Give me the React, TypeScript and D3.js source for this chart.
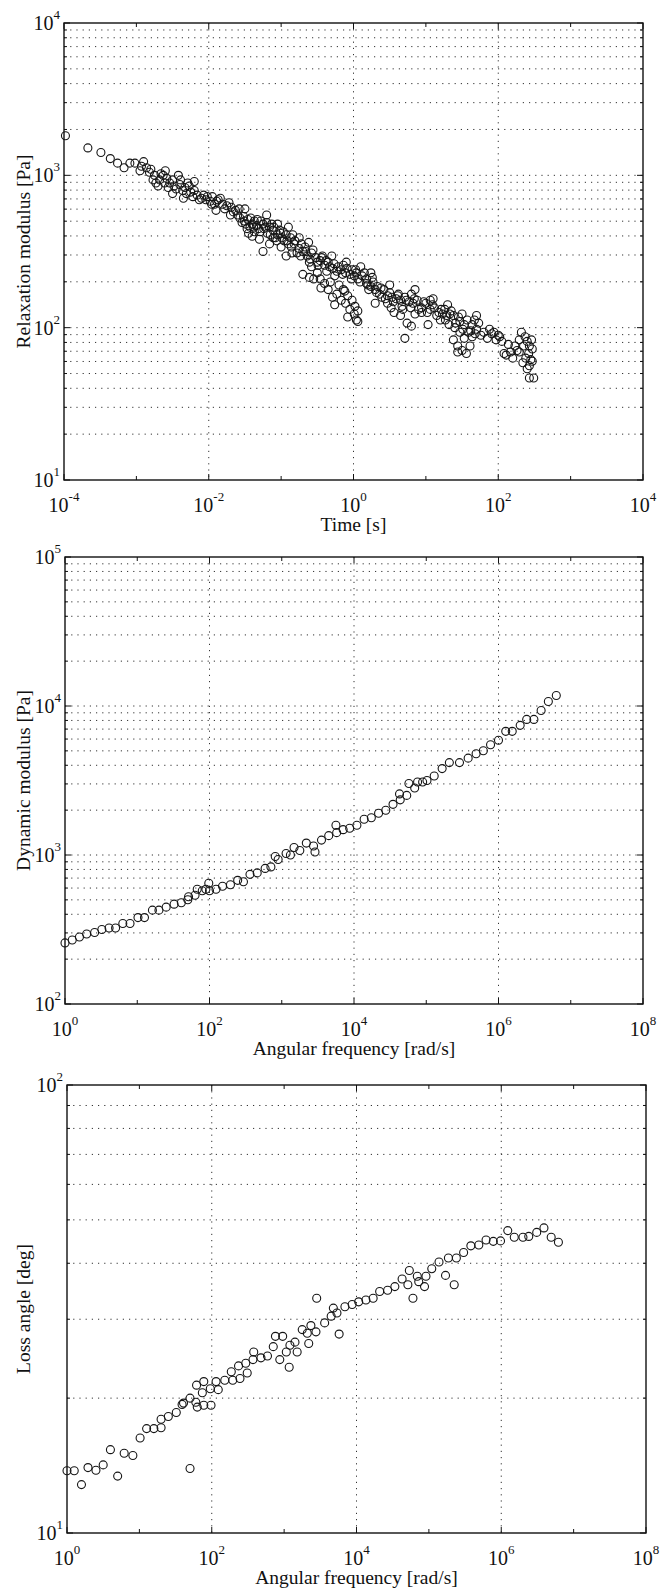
import React from 'react';
import * as d3 from 'd3';

// Values are given as decade exponents (log10): [log10 x, log10 y]
const relaxationPoints: [number, number][] = [
  [-3.98,3.26],[-3.67,3.18],[-3.49,3.15],[-3.36,3.11],[-3.26,3.08],[-3.17,3.05],[-3.09,3.08],[-3.02,3.08],
  [-2.93,3.06],[-2.86,3.05],[-2.82,3.02],[-2.77,2.97],[-2.73,2.95],[-2.68,2.97],[-2.63,3.00],[-2.58,2.98],
  [-2.54,2.95],[-2.48,2.93],[-2.42,3.00],[-2.39,2.97],[-2.33,2.92],[-2.27,2.93],[-2.25,2.89],[-2.31,2.88],
  [-2.22,2.86],[-2.16,2.87],[-2.10,2.85],[-2.04,2.84],[-1.98,2.83],[-1.92,2.81],[-1.87,2.84],[-1.81,2.81],
  [-1.75,2.80],[-1.69,2.79],[-2.07,2.87],[-1.95,2.86],[-1.84,2.85],[-1.63,2.77],[-1.60,2.74],[-1.57,2.72],
  [-1.51,2.70],[-1.46,2.71],[-1.40,2.68],[-1.34,2.67],[-1.28,2.70],[-1.22,2.66],[-1.16,2.66],[-1.11,2.64],
  [-1.05,2.61],[-0.99,2.59],[-0.93,2.61],[-0.87,2.59],[-0.81,2.57],[-1.16,2.55],[-1.25,2.50],[-0.93,2.47],
  [-1.54,2.69],[-1.49,2.68],[-1.43,2.66],[-1.37,2.70],[-1.31,2.65],[-1.25,2.68],[-1.19,2.62],[-1.13,2.68],
  [-1.08,2.59],[-1.02,2.64],[-0.96,2.57],[-0.90,2.55],[-0.84,2.61],[-1.37,2.63],[-1.11,2.59],[-0.75,2.52],
  [-0.70,2.50],[-0.64,2.47],[-0.58,2.49],[-0.52,2.46],[-0.46,2.44],[-0.40,2.41],[-0.35,2.43],[-0.29,2.39],
  [-0.23,2.37],[-0.17,2.38],[-0.11,2.36],[-0.05,2.35],[0.01,2.34],[0.06,2.32],[0.12,2.34],[0.18,2.32],
  [0.24,2.36],[-0.73,2.47],[-0.61,2.43],[-0.49,2.41],[-0.37,2.37],[-0.26,2.34],[-0.14,2.41],[-0.02,2.38],
  [0.04,2.36],[-0.43,2.47],[-0.67,2.53],[-0.70,2.35],[-0.61,2.33],[-0.55,2.32],[-0.46,2.32],[-0.40,2.29],
  [-0.35,2.25],[-0.29,2.20],[-0.26,2.15],[-0.23,2.22],[-0.17,2.18],[-0.11,2.16],[-0.05,2.12],[0.01,2.09],
  [0.04,2.05],[0.06,2.11],[-0.02,2.18],[-0.08,2.21],[-0.14,2.25],[-0.08,2.07],[0.06,2.04],[0.18,2.29],
  [0.24,2.27],[0.30,2.25],[0.36,2.22],[0.42,2.25],[0.47,2.21],[0.53,2.20],[0.59,2.19],[0.65,2.18],
  [0.71,2.20],[0.77,2.17],[0.82,2.16],[0.88,2.18],[0.94,2.13],[0.21,2.25],[0.27,2.30],[0.33,2.27],
  [0.39,2.20],[0.62,2.22],[0.85,2.25],[0.47,2.16],[0.56,2.10],[0.65,2.08],[0.74,2.03],[0.80,2.01],
  [0.71,1.93],[0.85,2.09],[0.94,2.10],[1.03,2.02],[1.06,2.18],[1.00,2.16],[1.06,2.12],[1.12,2.13],
  [1.18,2.10],[1.23,2.09],[1.29,2.08],[1.35,2.11],[1.41,2.03],[1.47,2.04],[1.53,2.02],[1.20,2.05],
  [1.32,2.02],[1.26,2.12],[1.38,2.08],[1.38,1.92],[1.44,1.88],[1.50,1.85],[1.56,1.83],[1.61,1.88],
  [1.44,1.84],[1.53,1.93],[1.59,1.97],[1.64,2.02],[1.70,1.99],[1.76,1.95],[1.73,2.03],[1.67,2.05],
  [1.47,1.97],[1.64,1.94],[1.88,1.99],[1.94,1.97],[2.00,1.95],[2.05,1.91],[2.08,1.83],[2.11,1.82],
  [2.17,1.84],[2.23,1.88],[2.29,1.92],[2.32,1.97],[2.37,1.94],[2.40,1.91],[2.43,1.88],[2.46,1.92],
  [2.47,1.86],[2.45,1.79],[2.43,1.75],[2.40,1.73],[2.43,1.67],[2.49,1.67],[2.34,1.77],[2.29,1.84],
  [2.20,1.80],
  [-2.95,3.03],[-2.90,3.09],[-2.80,3.04],[-2.75,3.00],[-2.70,2.93],[-2.66,3.01],[-2.61,2.95],[-2.56,2.92],
  [-2.50,2.97],[-2.45,2.91],[-2.40,2.94],[-2.36,2.90],[-2.29,2.95],[-2.20,2.90],[-2.13,2.84],[-2.02,2.86],
  [-1.96,2.81],[-1.89,2.83],[-1.78,2.78],[-1.72,2.82],[-1.66,2.76],[-1.58,2.78],[-1.52,2.73],[-1.47,2.65],
  [-1.42,2.72],[-1.38,2.66],[-1.33,2.71],[-1.29,2.63],[-1.24,2.65],[-1.20,2.69],[-1.15,2.61],[-1.10,2.66],
  [-1.06,2.57],[-1.01,2.62],[-0.97,2.63],[-0.92,2.57],[-0.86,2.53],[-0.82,2.55],[-0.78,2.49],[-0.72,2.55],
  [-0.66,2.50],[-0.60,2.45],[-0.56,2.51],[-0.50,2.43],[-0.44,2.46],[-0.38,2.44],[-0.33,2.40],[-0.27,2.42],
  [-0.21,2.40],[-0.15,2.35],[-0.09,2.39],[-0.03,2.32],[0.03,2.38],[0.09,2.30],[0.15,2.36],[0.20,2.28],
  [0.26,2.33],[0.32,2.23],[0.38,2.26],[0.44,2.19],[0.50,2.23],[0.55,2.17],[0.61,2.21],[0.67,2.14],
  [0.73,2.18],[0.79,2.13],[0.84,2.19],[0.90,2.12],[0.97,2.17],[1.02,2.10],[1.09,2.15],[1.15,2.08],
  [1.21,2.12],[1.27,2.05],[1.33,2.09],[1.40,2.00],[1.45,2.07],[1.51,1.99],[1.57,2.05],[1.62,1.98],
  [1.68,1.96],[1.80,1.97],[1.85,1.93],[1.91,1.96],[1.97,1.92],[2.02,1.94],[2.14,1.89],[2.26,1.85],
  [2.35,1.88],[2.42,1.83],[2.38,1.80],[2.47,1.78],[-0.45,2.26],[-0.32,2.30],[-0.20,2.28],[-0.12,2.24],
  [0.02,2.14],[-0.58,2.40],[0.52,2.13],[0.68,2.12],
  [-1.50,2.78],[-1.40,2.60],[-1.30,2.58],[-1.20,2.74],[-1.00,2.53],[-0.90,2.66],[-1.45,2.62],[-1.05,2.68],
  [-0.85,2.49],[-0.75,2.59],[-0.62,2.56],[-0.50,2.36],[-0.30,2.47],[-0.10,2.43],[0.10,2.40],[0.30,2.16],
  [0.50,2.28],[0.80,2.22],[1.10,2.19],[1.30,2.15],[1.50,2.09],[1.70,2.08],[-2.50,2.88],[-2.20,2.96],
  [-1.90,2.77],[-1.70,2.74],[-2.60,3.03],[-2.35,2.85],
];

const dynamicPoints: [number, number][] = [
  [0.00,2.41],[0.10,2.43],[0.20,2.45],[0.30,2.47],[0.41,2.48],[0.51,2.50],[0.61,2.51],[0.70,2.51],
  [0.80,2.54],[0.90,2.54],[1.01,2.58],[1.10,2.58],[1.21,2.63],[1.30,2.63],[1.40,2.65],[1.51,2.67],
  [1.61,2.68],[1.70,2.70],[1.71,2.72],[1.80,2.73],[1.83,2.77],[1.90,2.76],[1.95,2.77],[1.99,2.81],
  [2.00,2.76],[2.09,2.77],[2.18,2.79],[2.29,2.80],[2.39,2.83],[2.47,2.82],[2.56,2.87],[2.66,2.88],
  [2.77,2.91],[2.85,2.92],[2.91,2.99],[2.95,2.97],[3.06,3.01],[3.12,3.00],[3.17,3.05],[3.25,3.03],
  [3.34,3.08],[3.46,3.02],[3.44,3.06],[3.55,3.10],[3.65,3.13],[3.75,3.20],[3.76,3.15],[3.85,3.17],
  [3.94,3.18],[4.04,3.20],[4.14,3.24],[4.24,3.25],[4.34,3.28],[4.44,3.30],[4.54,3.34],[4.63,3.41],
  [4.64,3.37],[4.73,3.40],[4.76,3.48],[4.84,3.45],[4.88,3.49],[4.95,3.49],[5.01,3.50],[5.11,3.53],
  [5.22,3.58],[5.32,3.62],[5.46,3.62],[5.58,3.65],[5.69,3.68],[5.79,3.70],[5.89,3.74],[6.00,3.77],
  [6.10,3.83],[6.19,3.83],[6.30,3.87],[6.39,3.91],[6.49,3.91],[6.59,3.97],[6.69,4.03],[6.80,4.07],
];

const lossPoints: [number, number][] = [
  [0.00,1.139],[0.10,1.139],[0.20,1.108],[0.29,1.146],[0.40,1.140],[0.50,1.152],[0.60,1.186],[0.70,1.127],
  [0.79,1.178],[0.91,1.173],[1.01,1.212],[1.10,1.233],[1.20,1.233],[1.30,1.235],[1.30,1.254],[1.40,1.260],
  [1.51,1.269],[1.59,1.287],[1.61,1.290],[1.70,1.144],[1.70,1.301],[1.78,1.292],[1.80,1.281],[1.79,1.330],
  [1.87,1.313],[1.89,1.338],[1.89,1.285],[1.98,1.322],[1.99,1.285],[2.06,1.338],[2.09,1.320],[2.18,1.341],
  [2.27,1.360],[2.29,1.341],[2.37,1.373],[2.39,1.345],[2.47,1.379],[2.49,1.357],[2.57,1.387],[2.58,1.404],
  [2.68,1.391],[2.77,1.395],[2.85,1.416],[2.88,1.439],[2.94,1.387],[2.98,1.439],[3.03,1.404],[3.07,1.370],
  [3.08,1.419],[3.15,1.426],[3.18,1.404],[3.25,1.454],[3.32,1.446],[3.34,1.423],[3.37,1.463],[3.45,1.524],
  [3.44,1.449],[3.56,1.469],[3.65,1.484],[3.68,1.502],[3.73,1.491],[3.76,1.444],[3.84,1.505],[3.94,1.510],
  [4.03,1.516],[4.13,1.520],[4.23,1.524],[4.32,1.539],[4.43,1.542],[4.53,1.550],[4.63,1.567],[4.71,1.554],
  [4.73,1.586],[4.78,1.524],[4.84,1.573],[4.86,1.561],[4.94,1.550],[4.96,1.573],[5.04,1.590],[5.14,1.605],
  [5.23,1.575],[5.27,1.614],[5.35,1.554],[5.38,1.614],[5.48,1.626],[5.58,1.641],[5.69,1.643],[5.79,1.654],
  [5.89,1.651],[5.99,1.652],[6.09,1.675],[6.18,1.660],[6.30,1.660],[6.38,1.662],[6.49,1.671],[6.59,1.681],
  [6.69,1.660],[6.79,1.649],
];

// Axis ranges as decade exponents
const relaxXRange: [number, number] = [-4, 4];
const relaxYRange: [number, number] = [1, 4];
const dynXRange: [number, number] = [0, 8];
const dynYRange: [number, number] = [2, 5];
const lossXRange: [number, number] = [0, 8];
const lossYRange: [number, number] = [1, 2];

const FONT = "'Liberation Serif', 'Times New Roman', Times, serif";

type Box = { left: number; right: number; top: number; bottom: number };

function Panel({ box, xr, yr, xLabel, yLabel, points }: {
  box: Box; xr: [number, number]; yr: [number, number]; xLabel: string; yLabel: string; points: [number, number][];
}) {
  const x = d3.scaleLog().domain([10 ** xr[0], 10 ** xr[1]]).range([box.left, box.right]);
  const y = d3.scaleLog().domain([10 ** yr[0], 10 ** yr[1]]).range([box.bottom, box.top]);
  const xMajor = d3.range(xr[0], xr[1] + 1, 2);
  const xMinor = d3.range(xr[0] + 1, xr[1], 2);
  const yMajor = d3.range(yr[0], yr[1] + 1, 1);
  const yMinorVals: number[] = [];
  for (let e = yr[0]; e < yr[1]; e++) for (let k = 2; k <= 9; k++) yMinorVals.push(k * 10 ** e);
  const grid = { stroke: '#333', strokeWidth: 1, strokeDasharray: '1.2,5' };
  const tick = { stroke: '#111', strokeWidth: 1 };
  const midX = (box.left + box.right) / 2;
  const midY = (box.top + box.bottom) / 2;
  return (
    <g>
      {yMinorVals.concat(yMajor.slice(1, -1).map(e => 10 ** e)).map((v, i) => (
        <line key={'yg' + i} x1={box.left} x2={box.right} y1={y(v)} y2={y(v)} {...grid} />
      ))}
      {xMajor.slice(1, -1).map(e => (
        <line key={'xg' + e} x1={x(10 ** e)} x2={x(10 ** e)} y1={box.top} y2={box.bottom} {...grid} />
      ))}
      {xMajor.map(e => (
        <g key={'xt' + e}>
          <line x1={x(10 ** e)} x2={x(10 ** e)} y1={box.bottom} y2={box.bottom - 6} {...tick} />
          <line x1={x(10 ** e)} x2={x(10 ** e)} y1={box.top} y2={box.top + 6} {...tick} />
        </g>
      ))}
      {xMinor.map(e => (
        <g key={'xm' + e}>
          <line x1={x(10 ** e)} x2={x(10 ** e)} y1={box.bottom} y2={box.bottom - 4} {...tick} />
          <line x1={x(10 ** e)} x2={x(10 ** e)} y1={box.top} y2={box.top + 4} {...tick} />
        </g>
      ))}
      {yMajor.map(e => (
        <g key={'yt' + e}>
          <line x1={box.left} x2={box.left + 6} y1={y(10 ** e)} y2={y(10 ** e)} {...tick} />
          <line x1={box.right} x2={box.right - 6} y1={y(10 ** e)} y2={y(10 ** e)} {...tick} />
        </g>
      ))}
      {yMinorVals.map((v, i) => (
        <g key={'ym' + i}>
          <line x1={box.left} x2={box.left + 3} y1={y(v)} y2={y(v)} {...tick} />
          <line x1={box.right} x2={box.right - 3} y1={y(v)} y2={y(v)} {...tick} />
        </g>
      ))}
      <rect x={box.left} y={box.top} width={box.right - box.left} height={box.bottom - box.top}
        fill="none" stroke="#111" strokeWidth={1.4} />
      {points.map((p, i) => (
        <circle key={'p' + i} cx={x(10 ** p[0])} cy={y(10 ** p[1])} r={4}
          fill="none" stroke="#151515" strokeWidth={1.1} />
      ))}
      {xMajor.map(e => (
        <text key={'xl' + e} x={x(10 ** e)} y={box.bottom + 32} textAnchor="middle"
          fontFamily={FONT} fontSize={20} fill="#111">
          <tspan>10</tspan><tspan dy={-11} fontSize={13}>{e < 0 ? '-' + Math.abs(e) : String(e)}</tspan>
        </text>
      ))}
      {yMajor.map(e => (
        <text key={'yl' + e} x={box.left - 4} y={y(10 ** e) + 7} textAnchor="end"
          fontFamily={FONT} fontSize={20} fill="#111">
          <tspan>10</tspan><tspan dy={-11} fontSize={13}>{String(e)}</tspan>
        </text>
      ))}
      <text x={midX} y={box.bottom + 51} textAnchor="middle" fontFamily={FONT} fontSize={19.5} fill="#111">{xLabel}</text>
      <text transform={`translate(30,${midY}) rotate(-90)`} textAnchor="middle" fontFamily={FONT} fontSize={19.5} fill="#111">{yLabel}</text>
    </g>
  );
}

export default function App() {
  return (
    <svg width={662} height={1594} style={{ position: 'absolute', left: 0, top: 0, background: '#fff' }}>
      <rect x={0} y={0} width={662} height={1594} fill="#fff" />
      <Panel box={{ left: 64, right: 643, top: 23, bottom: 480 }} xr={relaxXRange} yr={relaxYRange}
        xLabel="Time [s]" yLabel="Relaxation modulus [Pa]" points={relaxationPoints} />
      <Panel box={{ left: 65, right: 643, top: 557, bottom: 1004 }} xr={dynXRange} yr={dynYRange}
        xLabel="Angular frequency [rad/s]" yLabel="Dynamic modulus [Pa]" points={dynamicPoints} />
      <Panel box={{ left: 67, right: 646, top: 1085, bottom: 1533 }} xr={lossXRange} yr={lossYRange}
        xLabel="Angular frequency [rad/s]" yLabel="Loss angle [deg]" points={lossPoints} />
    </svg>
  );
}
